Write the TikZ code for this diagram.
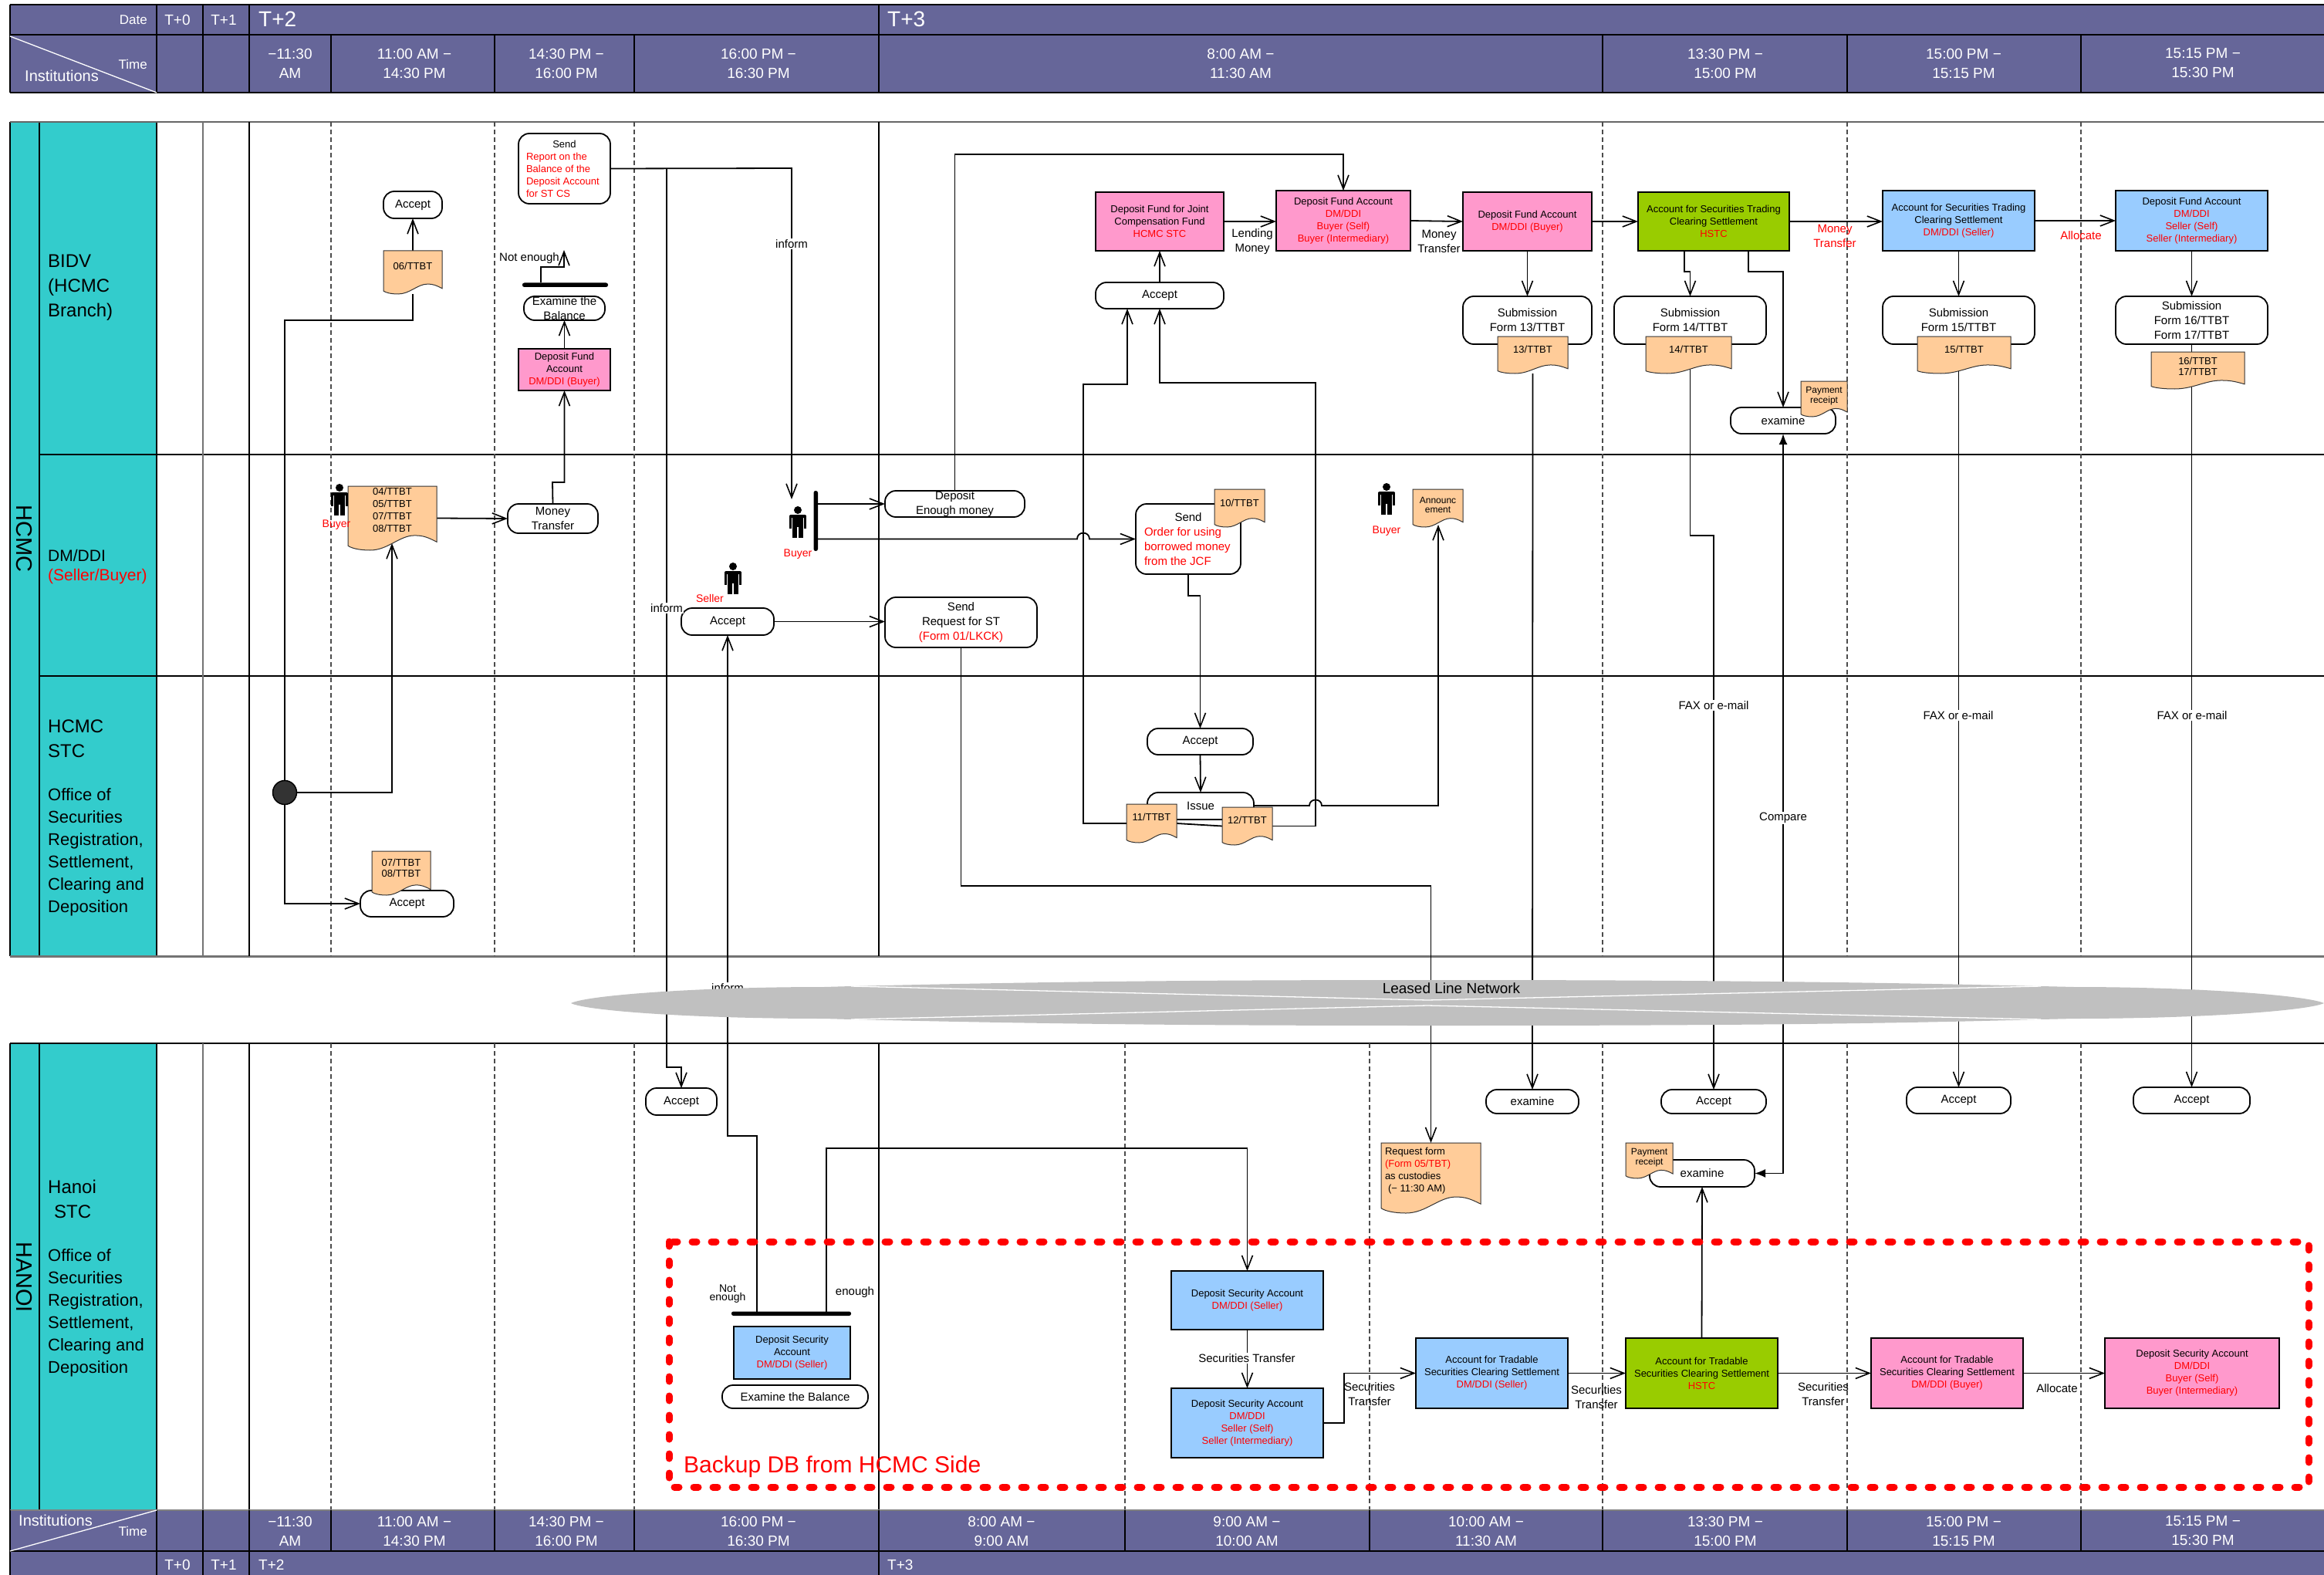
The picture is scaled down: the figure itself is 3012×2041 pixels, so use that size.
\documentclass[tikz,border=0pt]{standalone}
\usepackage{fontspec}
\setmainfont{Liberation Sans}
\usetikzlibrary{arrows.meta,calc}
\definecolor{hdr}{HTML}{666699}
\definecolor{teal2}{HTML}{33CCCC}
\definecolor{pink2}{HTML}{FF99CC}
\definecolor{blue2}{HTML}{99CCFF}
\definecolor{green2}{HTML}{99CC00}
\definecolor{orng}{HTML}{FFCC99}
\definecolor{tred}{HTML}{FF0000}
\definecolor{netg}{HTML}{C0C0C0}
\pgfdeclarelayer{bg}\pgfdeclarelayer{conn}\pgfdeclarelayer{over}
\pgfsetlayers{bg,conn,main,over}
\newcommand{\fs}{\fontsize{13}{16}\selectfont}
\newcommand{\fm}{\fontsize{15}{19}\selectfont}
\newcommand{\rd}[1]{\textcolor{tred}{#1}}
\newcounter{lblc}
\newcommand{\lbl}[4][]{\stepcounter{lblc}\node[txt,#1] (lbl\arabic{lblc}) at (#2,#3) {#4};}
\newcommand{\bx}[7]{%
 \pgfmathsetmacro\mW{#5-#3}\pgfmathsetmacro\mH{#6-#4}%
 \pgfmathsetmacro\mX{(#3+#5)/2}\pgfmathsetmacro\mY{(#4+#6)/2}%
 \node[#1,inner sep=0pt,outer sep=0pt,minimum width=\mW pt,minimum height=\mH pt] (#2) at (\mX,\mY)
   {\parbox[c][\mH pt][c]{\mW pt}{\centering #7}};}
\newcommand{\lft}[3]{\makebox[#1pt][l]{\hspace{#2pt}#3}}
\def\docfs{13}
\newcommand{\docn}[8]{%
 \pgfmathsetmacro\mW{#4-#2}\pgfmathsetmacro\mH{#5-#3}%
 \pgfmathsetmacro\mX{(#2+#4)/2}\pgfmathsetmacro\mY{(#3+#5)/2}%
 \pgfmathsetmacro\mP{#6-#3-0.7*#7+4.6}%
 \path[docfill] (#2,#3) -- (#4,#3) -- (#4,{#5-0.13*\mH})
   .. controls ({#4-0.1*\mW},{#5-0.2*\mH}) and ({#4-0.15*\mW},{#5-0.23*\mH}) .. ({#4-0.25*\mW},{#5-0.23*\mH})
   .. controls ({#4-0.42*\mW},{#5-0.23*\mH}) and ({#2+0.45*\mW},#5) .. ({#2+0.25*\mW},#5)
   .. controls ({#2+0.13*\mW},#5) and ({#2+0.04*\mW},{#5-0.03*\mH}) .. (#2,{#5-0.07*\mH}) -- cycle;
 \node[inner sep=0pt,outer sep=0pt,minimum width=\mW pt,minimum height=\mH pt] (#1) at (\mX,\mY)
   {\parbox[c][\mH pt][t]{\mW pt}{\fontsize{\docfs}{#7}\selectfont\centering\vspace*{\mP pt}\strut #8}};}
\newcommand{\prsn}[2]{%
 \fill (#1,{#2+5}) circle[radius=5];
 \fill[rounded corners=2pt] ({#1-11},{#2+11}) rectangle ({#1+11},{#2+15});
 \fill ({#1-11},{#2+12}) rectangle ({#1-8},{#2+29});
 \fill ({#1+8},{#2+12}) rectangle ({#1+11},{#2+29});
 \fill ({#1-7},{#2+11}) rectangle ({#1+7},{#2+27});
 \fill ({#1-7},{#2+26}) rectangle ({#1-1},{#2+41});
 \fill ({#1+1},{#2+26}) rectangle ({#1+7},{#2+41});}
\tikzset{
 txt/.style={inner sep=0pt,align=center,font=\fm},
 hdrt/.style={txt,text=white,font=\fontsize{19}{25}\selectfont},
 lane/.style={txt,anchor=west,align=left},
 lab/.style={txt,fill=white,inner sep=1.5pt},
 rbox/.style={draw=black,line width=1.8pt,fill=white,rounded corners=14pt,font=\fm},
 rboxs/.style={draw=black,line width=1.8pt,fill=white,rounded corners=14pt,font=\fs},
 acct/.style={draw=black,line width=1.1pt,font=\fs},
 pinkb/.style={acct,fill=pink2},
 blueb/.style={acct,fill=blue2},
 greenb/.style={acct,fill=green2},
 barb/.style={fill=black,rounded corners=2.5pt,font=\fontsize{1}{1}\selectfont},
 docfill/.style={draw=black!80,line width=1pt,fill=orng},
 conn/.style={line width=1.8pt},
 arr/.style={conn,-{Straight Barb[length=18pt,width=14pt,line width=1.6pt]}},
 darr/.style={conn,{Latex[length=14pt,width=11pt]}-{Latex[length=14pt,width=11pt]}},
 gridl/.style={line width=1.2pt},
 dashl/.style={line width=1.2pt,draw=black!70,dash pattern=on 6pt off 4pt},
 hline/.style={line width=1.8pt,draw=black},
 wl/.style={line width=1.3pt,draw=white},
 backupbox/.style={draw=tred,line width=9pt,line cap=round,dash pattern=on 6pt off 19pt},
}
\begin{document}
\begin{tikzpicture}[x=1pt,y=-1pt]
\useasboundingbox (0,0) rectangle (3012,2041);
\begin{pgfonlayer}{bg}
\fill[white] (0,0) rectangle (3012,2041);
% header
\fill[hdr] (13,6) rectangle (3012,120);
\draw[hline] (13,6) -- (3012,6);
\draw[gridl] (13,45) -- (3012,45) (13,120) -- (3012,120) (13,6) -- (13,120);
\foreach \x in {203,263,323,1139} \draw[gridl] (\x,6) -- (\x,120);
\foreach \x in {429,641,822,2077,2394,2697} \draw[gridl] (\x,45) -- (\x,120);
\draw[wl] (13,47) -- (203,120);
% lanes
\fill[teal2] (13,158) rectangle (203,1239);
\fill[teal2] (13,1352) rectangle (203,1957);
\draw[gridl] (51,158) -- (51,1239) (51,1352) -- (51,1957) (13,158) -- (13,1239) (13,1352) -- (13,1957) (203,158) -- (203,1239) (203,1352) -- (203,1957);
\draw[gridl,draw=black!60] (13,158) -- (3012,158);
\draw[line width=3pt,draw=black!55] (13,1239) -- (3012,1239);
\draw[hline] (13,1352) -- (3012,1352);
\draw[line width=2.6pt] (51,589) -- (3012,589) (51,876) -- (3012,876);
\foreach \a/\b in {158/1239,1352/1957}{
 \draw[gridl,draw=black!55] (263,\a) -- (263,\b);
 \draw[gridl] (323,\a) -- (323,\b) (1139,\a) -- (1139,\b);
 \foreach \x in {429,641,822,2077,2394,2697} \draw[dashl] (\x,\a) -- (\x,\b);
}
\foreach \x in {1458,1775} \draw[dashl] (\x,1352) -- (\x,1957);
% footer
\fill[hdr] (13,1957) rectangle (3012,2041);
\draw[line width=2pt,draw=black!50] (13,1957) -- (3012,1957);
\draw[hline] (13,2010) -- (3012,2010);
\draw[gridl] (13,1957) -- (13,2041);
\foreach \x in {203,263,323,1139} \draw[gridl] (\x,1957) -- (\x,2041);
\foreach \x in {429,641,822,1458,1775,2077,2394,2697} \draw[gridl] (\x,1957) -- (\x,2010);
\draw[wl] (13,2010) -- (203,1957);
\end{pgfonlayer}
% header text
\lbl[hdrt,anchor=east,font=\fontsize{17}{20}\selectfont]{191}{26}{Date}
\lbl[hdrt]{230}{26}{T+0}
\lbl[hdrt]{290}{26}{T+1}
\lbl[hdrt,anchor=west,font=\fontsize{28}{30}\selectfont]{335}{25}{T+2}
\lbl[hdrt,anchor=west,font=\fontsize{28}{30}\selectfont]{1150}{25}{T+3}
\lbl[hdrt,anchor=east,font=\fontsize{17}{20}\selectfont]{191}{83}{Time}
\lbl[hdrt,anchor=west,font=\fontsize{20}{22}\selectfont]{32}{98}{Institutions}
\lbl[hdrt]{376}{82}{−11:30\\AM}
\lbl[hdrt]{537}{82}{11:00 AM −\\14:30 PM}
\lbl[hdrt]{734}{82}{14:30 PM −\\16:00 PM}
\lbl[hdrt]{983}{82}{16:00 PM −\\16:30 PM}
\lbl[hdrt]{1608}{82}{8:00 AM −\\11:30 AM}
\lbl[hdrt]{2236}{82}{13:30 PM −\\15:00 PM}
\lbl[hdrt]{2545}{82}{15:00 PM −\\15:15 PM}
\lbl[hdrt]{2855}{82}{15:15 PM −\\15:30 PM}
% footer text
\lbl[hdrt,anchor=west,font=\fontsize{20}{22}\selectfont]{24}{1970}{Institutions}
\lbl[hdrt,anchor=east,font=\fontsize{17}{20}\selectfont]{191}{1984}{Time}
\lbl[hdrt]{376}{1984}{−11:30\\AM}
\lbl[hdrt]{537}{1984}{11:00 AM −\\14:30 PM}
\lbl[hdrt]{734}{1984}{14:30 PM −\\16:00 PM}
\lbl[hdrt]{983}{1984}{16:00 PM −\\16:30 PM}
\lbl[hdrt]{1298}{1984}{8:00 AM −\\9:00 AM}
\lbl[hdrt]{1616}{1984}{9:00 AM −\\10:00 AM}
\lbl[hdrt]{1926}{1984}{10:00 AM −\\11:30 AM}
\lbl[hdrt]{2236}{1984}{13:30 PM −\\15:00 PM}
\lbl[hdrt]{2545}{1984}{15:00 PM −\\15:15 PM}
\lbl[hdrt]{2855}{1984}{15:15 PM −\\15:30 PM}
\lbl[hdrt]{230}{2028}{T+0}
\lbl[hdrt]{290}{2028}{T+1}
\lbl[hdrt,anchor=west]{335}{2028}{T+2}
\lbl[hdrt,anchor=west]{1150}{2028}{T+3}
% lane text
\lbl[rotate=-90,font=\fontsize{29}{30}\selectfont]{31}{698}{HCMC}
\lbl[rotate=-90,font=\fontsize{29}{30}\selectfont]{31}{1655}{HANOI}
\lbl[lane,font=\fontsize{24}{32}\selectfont]{62}{373}{BIDV\\(HCMC\\Branch)}
\lbl[lane,font=\fontsize{21}{26}\selectfont]{62}{720}{DM/DDI}
\lbl[lane,font=\fontsize{21}{26}\selectfont]{62}{747}{\rd{(Seller/Buyer)}}
\lbl[lane,font=\fontsize{24}{32}\selectfont]{62}{957}{HCMC\\STC}
\lbl[lane,font=\fontsize{22}{29}\selectfont]{62}{1104}{Office of\\Securities\\Registration,\\Settlement,\\Clearing and\\Deposition}
\lbl[lane,font=\fontsize{24}{32}\selectfont]{62}{1554}{Hanoi\\\hspace*{8pt}STC}
\lbl[lane,font=\fontsize{22}{29}\selectfont]{62}{1701}{Office of\\Securities\\Registration,\\Settlement,\\Clearing and\\Deposition}
% BIDV column nodes
\bx{rboxs}{sendrep}{672}{173}{791}{264}{Send\\\lft{119}{10}{\rd{Report on the}}\\\lft{119}{10}{\rd{Balance of the}}\\\lft{119}{10}{\rd{Deposit Account}}\\\lft{119}{10}{\rd{for ST CS}}}
\bx{rbox}{accA}{497}{248}{573}{283}{Accept}
\docn{docA}{497}{325}{573}{381}{345}{16}{06/TTBT}
\docn{docB}{451}{630}{566}{713}{637}{16}{04/TTBT\\05/TTBT\\07/TTBT\\08/TTBT}
\coordinate (docBtip) at (508,704);
\bx{pinkb}{dfA}{672}{452}{791}{506}{Deposit Fund\\Account\\\rd{DM/DDI (Buyer)}}
\bx{rbox}{exA}{679}{384}{784}{415}{Examine the\\Balance}
\bx{barb}{barA}{677}{366.5}{788}{372}{}
\coordinate (notA) at (731,324);
\lbl{686}{335}{Not enough}
\bx{rbox}{mt}{658}{653}{775}{691}{Money\\Transfer}
\node[circle,draw=black,line width=1.5pt,fill=black!80,minimum size=31pt,inner sep=0pt,outer sep=0pt] (j1) at (369,1027) {};
\bx{rbox}{accB}{467}{1154}{588}{1188}{Accept}
\docn{docC}{482}{1103}{558}{1160}{1117}{12}{07/TTBT\\08/TTBT}
\prsn{440}{627}
\lbl[text=tred,font=\fontsize{14}{16}\selectfont]{436}{680}{Buyer}
% middle DM nodes
\prsn{1034}{656}
\lbl[text=tred,font=\fontsize{14}{16}\selectfont]{1034}{718}{Buyer}
\bx{barb}{barB}{1054.5}{636}{1060}{714}{}
\coordinate (buyerTip) at (1026,647);
\bx{rbox}{dep}{1147}{636}{1328}{670}{Deposit\\Enough money}
\bx{rbox}{sendO}{1472}{653}{1608}{744}{Send\\\lft{136}{11}{\rd{Order for using}}\\\lft{136}{11}{\rd{borrowed money}}\\\lft{136}{11}{\rd{from the JCF}}}
\docn{doc10}{1574}{634}{1639}{683}{652}{16}{10/TTBT}
\prsn{1797}{626}
\lbl[text=tred,font=\fontsize{14}{16}\selectfont]{1797}{688}{Buyer}
\def\docfs{12}
\docn{docAnn}{1831}{634}{1896}{683}{647}{10.5}{Announc\\ement}
\def\docfs{13}
\coordinate (annTip) at (1864,680);
\prsn{950}{729}
\lbl[text=tred,font=\fontsize{14}{16}\selectfont]{920}{775}{Seller}
\bx{rbox}{accS}{883}{788}{1003}{823}{Accept}
\bx{rbox}{reqST}{1147}{774}{1344}{839}{Send\\Request for ST\\\rd{(Form 01/LKCK)}}
% HCMC STC column
\bx{rbox}{accI}{1487}{944}{1624}{978}{Accept}
\bx{rbox}{issue}{1487}{1027}{1625}{1062}{Issue}
\docn{doc11}{1460}{1042}{1525}{1092}{1059}{16}{11/TTBT}
\docn{doc12}{1584}{1046}{1649}{1095}{1063}{16}{12/TTBT}
% T+3 top row
\bx{pinkb}{dfJ}{1420}{249}{1586}{325}{Deposit Fund for Joint\\Compensation Fund\\\rd{HCMC STC}}
\bx{pinkb}{dfB}{1654}{247}{1828}{325}{Deposit Fund Account\\\rd{DM/DDI}\\\rd{Buyer (Self)}\\\rd{Buyer (Intermediary)}}
\bx{pinkb}{dfC}{1896}{249}{2063}{325}{Deposit Fund Account\\\rd{DM/DDI (Buyer)}}
\bx{greenb}{grnT}{2123}{249}{2319}{325}{Account for Securities Trading\\Clearing Settlement\\\rd{HSTC}}
\bx{blueb}{blT}{2440}{247}{2637}{325}{Account for Securities Trading\\Clearing Settlement\\\rd{DM/DDI (Seller)}}
\bx{blueb}{bl2T}{2742}{247}{2939}{325}{Deposit Fund Account\\\rd{DM/DDI}\\\rd{Seller (Self)}\\\rd{Seller (Intermediary)}}
\bx{rbox}{accJ}{1420}{366}{1586}{400}{Accept}
\lbl{1623}{313}{Lending\\Money}
\lbl{1865}{313}{Money\\Transfer}
\lbl[text=tred]{2378}{306}{Money\\Transfer}
\lbl[text=tred]{2697}{305}{Allocate}
% submissions
\bx{rbox}{sub13}{1896}{384}{2063}{446}{Submission\\Form 13/TTBT}
\docn{doc13}{1941}{436}{2032}{484}{453}{16}{13/TTBT}
\bx{rbox}{sub14}{2092}{384}{2289}{446}{Submission\\Form 14/TTBT}
\docn{doc14}{2133}{436}{2244}{484}{453}{16}{14/TTBT}
\bx{rbox}{sub15}{2440}{384}{2637}{446}{Submission\\Form 15/TTBT}
\docn{doc15}{2485}{436}{2606}{484}{453}{16}{15/TTBT}
\bx{rbox}{sub16}{2742}{384}{2939}{446}{Submission\\Form 16/TTBT\\Form 17/TTBT}
\docn{doc16}{2788}{456}{2909}{504}{467}{12}{16/TTBT\\17/TTBT}
\bx{rbox}{exT}{2243}{528}{2379}{562}{examine}
\def\docfs{12}
\docn{docPT}{2334}{494}{2394}{540}{505}{11.5}{Payment\\receipt}
\def\docfs{13}
% Hanoi
\bx{rbox}{accH}{837}{1410}{929}{1445}{Accept}
\bx{rbox}{exN}{1926}{1412}{2046}{1443}{examine}
\bx{rbox}{acc14}{2153}{1412}{2289}{1443}{Accept}
\bx{rbox}{acc15}{2471}{1409}{2606}{1443}{Accept}
\bx{rbox}{acc16}{2765}{1409}{2916}{1443}{Accept}
\docn{docReq}{1790}{1481}{1919}{1572}{1492}{16}{\lft{129}{5}{Request form}\\\lft{129}{5}{\rd{(Form 05/TBT)}}\\\lft{129}{5}{as custodies}\\\lft{129}{5}{\hspace{4pt}(− 11:30 AM)}}
\bx{rbox}{exH}{2138}{1503}{2274}{1538}{examine}
\def\docfs{12}
\docn{docPH}{2107}{1481}{2168}{1527}{1492}{11.5}{Payment\\receipt}
\def\docfs{13}
\bx{barb}{barH}{948}{1699.5}{1103}{1705}{}
\lbl[font=\fontsize{14}{11}\selectfont]{943}{1677}{Not\\enough}
\lbl{1108}{1675}{enough}
\bx{blueb}{blS0}{951}{1719}{1102}{1787}{Deposit Security\\Account\\\rd{DM/DDI (Seller)}}
\bx{rbox}{exBal}{936}{1795}{1125}{1825}{Examine the Balance}
\bx{blueb}{blH}{1518}{1647}{1715}{1723}{Deposit Security Account\\\rd{DM/DDI (Seller)}}
\bx{blueb}{blS}{1518}{1799}{1715}{1889}{Deposit Security Account\\\rd{DM/DDI}\\\rd{Seller (Self)}\\\rd{Seller (Intermediary)}}
\bx{blueb}{blAcc}{1835}{1734}{2032}{1825}{Account for Tradable\\Securities Clearing Settlement\\\rd{DM/DDI (Seller)}}
\bx{greenb}{grnH}{2107}{1734}{2304}{1825}{Account for Tradable\\Securities Clearing Settlement\\\rd{HSTC}}
\bx{pinkb}{pkH}{2425}{1734}{2622}{1825}{Account for Tradable\\Securities Clearing Settlement\\\rd{DM/DDI (Buyer)}}
\bx{pinkb}{pk2}{2728}{1734}{2954}{1825}{Deposit Security Account\\\rd{DM/DDI}\\\rd{Buyer (Self)}\\\rd{Buyer (Intermediary)}}
\lbl{1775}{1807}{Securities\\Transfer}
\lbl{2069}{1811}{Securities\\Transfer}
\lbl{2363}{1807}{Securities\\Transfer}
\lbl{2666}{1799}{Allocate}
% red box
\draw[backupbox] (867,1609) rectangle (2992,1927);
\lbl[anchor=west,text=tred,font=\fontsize{30}{34}\selectfont]{886}{1901}{Backup DB from HCMC Side}
% connector labels
\lbl[lab]{1026}{316}{inform}
\lbl[lab]{864}{788}{inform}
\lbl[lab]{943}{1280}{inform}
\lbl[lab]{2221}{914}{FAX or e-mail}
\lbl[lab]{2538}{927}{FAX or e-mail}
\lbl[lab]{2841}{927}{FAX or e-mail}
\lbl[lab]{2311}{1060}{Compare}
\lbl[lab]{1616}{1760}{Securities Transfer}
% connectors
\begin{pgfonlayer}{conn}
\draw[arr] (docA.north) -- (accA.south);
\draw[conn] (docA.south) -- (535,415) -- (369,415) -- (j1.north);
\draw[arr] (j1.east) -- (508,1027) -- (docBtip);
\draw[arr] (j1.south) |- (accB.west);
\draw[arr] (docB.east) -- (mt.west);
\draw[arr] (mt.north) -- (716,625) -- (731.5,625) -- (dfA.south);
\draw[arr] (dfA.north) -- (exA.south);
\draw[arr] (701,0 |- barA.north) -- (701,346) -- (731,346) -- (notA);
\draw[arr] (sendrep.east) -- (1026,218) -- (buyerTip);
\draw[arr] (864,0 |- sendrep.east) -- (864,1383) -- (883,1383) -- (accH.north);
\draw[arr] (barB.east |- dep.west) -- (dep.west);
\draw[arr] (barB.east |- sendO.west) -- (1396,698.5) .. controls (1396,688) and (1412,688) .. (1412,698.5) -- (sendO.west);
\draw[arr] (dep.north) -- (1237.5,200) -- (1741,200) -- (dfB.north);
\draw[arr] (dfJ.east) -- (dfB.west |- dfJ.east);
\draw[arr] (dfB.east) -- (dfC.west);
\draw[arr] (dfC.east) -- (grnT.west);
\draw[arr] (grnT.east) -- (blT.west |- grnT.east);
\draw[arr] (blT.east) -- (bl2T.west);
\draw[arr] (accJ.north) -- (dfJ.south);
\draw[arr] (doc11.west) -- (1404,1067) -- (1404,498) -- (1461,498) -- (1461,0 |- accJ.south);
\draw[arr] (doc12.east) -- (1705,1070.5) -- (1705,496) -- (1503,496) -- (accJ.south);
\draw[arr] (sendO.south) -- (1540,772) -- (1555.5,772) -- (accI.north);
\draw[arr] (accI.south) -- (issue.north);
\draw[arr] (issue.east |- 0,1044) -- (1697,1044) .. controls (1697,1034) and (1713,1034) .. (1713,1044) -- (1864,1044) -- (annTip);
\draw[conn] (doc11.east) -- (doc12.west);
\draw[arr] (accS.east) -- (reqST.west |- accS.east);
\draw[arr] (reqST.south) -- (1245.5,1148) -- (1854.5,1148) -- (docReq.north);
\draw[arr] (981,0 |- barH.north) -- (981,1472) -- (943,1472) -- (accS.south);
\draw[arr] (1071,0 |- barH.north) -- (1071,1488) -- (1616.5,1488) -- (blH.north);
\draw[arr] (blH.south) -- (blS.north);
\draw[arr] (blS.east |- 0,1844) -- (1742,1844) -- (1742,1779.5) -- (blAcc.west);
\draw[arr] (blAcc.east) -- (grnH.west);
\draw[arr] (grnH.east) -- (pkH.west);
\draw[arr] (pkH.east) -- (pk2.west);
\draw[arr] (grnH.north) -- (exH.south);
\draw[arr] (dfC.south) -- (sub13.north);
\draw[arr] (doc13.south) -- (exN.north);
\draw[arr] (2183,0 |- grnT.south) -- (2183,352) -- (2190.5,352) -- (sub14.north);
\draw[arr] (2266,0 |- grnT.south) -- (2266,352) -- (2311,352) -- (exT.north);
\draw[arr] (sub14.south) -- (2190.5,694) -- (2221,694) -- (acc14.north);
\draw[darr] (exT.south) -- (exT.south |- exH.east) -- (exH.east);
\draw[arr] (blT.south) -- (sub15.north);
\draw[arr] (sub15.south) -- (acc15.north);
\draw[arr] (bl2T.south) -- (sub16.north);
\draw[arr] (sub16.south) -- (acc16.north);
\end{pgfonlayer}
% leased line network
\begin{pgfonlayer}{over}
\fill[netg] (740,1300) .. controls (760,1290) and (900,1279) .. (1068,1279) -- (1103,1278)
  .. controls (1400,1271) and (1600,1270) .. (1870,1270) .. controls (2150,1270) and (2400,1272) .. (2645,1278)
  -- (2688,1279) .. controls (2850,1279) and (2990,1290) .. (3012,1300)
  .. controls (2990,1310) and (2850,1320) .. (2688,1320) -- (2645,1321)
  .. controls (2400,1328) and (2150,1329) .. (1870,1329) .. controls (1600,1329) and (1400,1328) .. (1103,1321)
  -- (1068,1320) .. controls (900,1320) and (760,1310) .. (740,1300) -- cycle;
\draw[wl] (1103,1278) -- (1850,1296) -- (2645,1278);
\draw[wl] (1103,1321) -- (1850,1303) -- (2645,1321);
\lbl[font=\fontsize{19}{22}\selectfont]{1881}{1281}{Leased Line Network}
\end{pgfonlayer}
\end{tikzpicture}
\end{document}
